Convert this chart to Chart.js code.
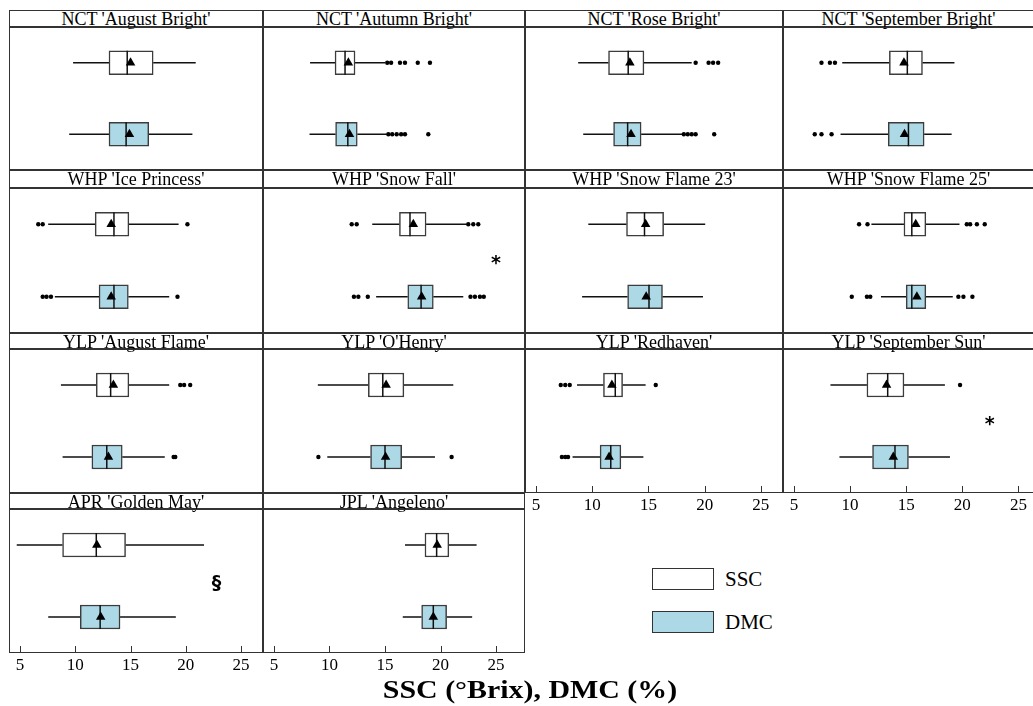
<!DOCTYPE html>
<html>
<head>
<meta charset="utf-8">
<title>SSC and DMC by cultivar</title>
<script src="https://cdn.jsdelivr.net/npm/chart.js@4.4.1/dist/chart.umd.min.js"></script>
<style>
  html, body { margin: 0; padding: 0; background: #fff; }
  body { width: 1033px; height: 706px; position: relative; overflow: hidden;
         font-family: "Liberation Serif", "Times New Roman", serif; color: #000; }
  .strip { position: absolute; box-sizing: border-box; border: 1px solid #333; text-align: center;
           font-size: 18px; line-height: 16px; white-space: nowrap; }
  canvas { position: absolute; }
  .key { position: absolute; left: 652px; width: 62px; height: 22px; box-sizing: border-box; border: 1.5px solid #333; }
  .keytext { position: absolute; left: 725px; font-size: 21px; line-height: 22px; }
  #xtitle { position: absolute; left: 0; width: 1059px; top: 675px; text-align: center; }
  #xtitle span { display: inline-block; font-weight: bold; font-size: 26px; line-height: 30px; transform: scaleX(1.15); }
</style>
</head>
<body>
<div id="figure"></div>
<div class="key" style="top:568px;background:#fff"></div>
<div class="keytext" style="top:568px">SSC</div>
<div class="key" style="top:611px;background:#add8e6"></div>
<div class="keytext" style="top:611px">DMC</div>
<div id="xtitle"><span>SSC (°Brix), DMC (%)</span></div>
<script>
const panelNames = [
  "NCT 'August Bright'", "NCT 'Autumn Bright'", "NCT 'Rose Bright'", "NCT 'September Bright'",
  "WHP 'Ice Princess'", "WHP 'Snow Fall'", "WHP 'Snow Flame 23'", "WHP 'Snow Flame 25'",
  "YLP 'August Flame'", "YLP 'O'Henry'", "YLP 'Redhaven'", "YLP 'September Sun'",
  "APR 'Golden May'", "JPL 'Angeleno'"
];
const measures = ['SSC', 'DMC'];

// [lower whisker, Q1, median, Q3, upper whisker]
const sscBox = [
  [9.8, 13.05, 14.7, 17.05, 20.9],
  [8.25, 10.5, 11.4, 12.3, 15.0],
  [8.75, 11.45, 13.2, 14.6, 18.85],
  [9.3, 13.5, 15.1, 16.45, 19.3],
  [7.55, 11.8, 13.5, 14.85, 19.35],
  [13.85, 16.3, 17.25, 18.7, 22.35],
  [9.65, 13.05, 14.65, 16.35, 20.05],
  [11.9, 14.8, 15.5, 16.75, 19.75],
  [8.7, 11.9, 13.2, 14.85, 18.5],
  [8.95, 13.5, 14.8, 16.7, 21.15],
  [8.65, 11.0, 12.05, 12.7, 14.75],
  [8.25, 11.5, 13.35, 14.8, 18.45],
  [4.7, 8.85, 11.9, 14.55, 21.65],
  [16.8, 18.6, 19.65, 20.75, 23.25]
];
const dmcBox = [
  [9.45, 13.05, 14.6, 16.65, 20.6],
  [8.2, 10.55, 11.65, 12.5, 15.15],
  [9.2, 11.9, 13.15, 14.35, 18.0],
  [9.15, 13.4, 15.2, 16.6, 19.05],
  [8.15, 12.15, 13.5, 14.8, 18.5],
  [14.2, 17.05, 18.25, 19.35, 22.05],
  [9.1, 13.15, 15.05, 16.25, 19.85],
  [12.75, 15.0, 15.5, 16.75, 19.15],
  [8.85, 11.5, 12.85, 14.25, 18.1],
  [9.8, 13.7, 15.0, 16.5, 19.5],
  [8.25, 10.7, 11.65, 12.55, 14.55],
  [9.05, 12.0, 14.0, 15.2, 18.9],
  [7.55, 10.45, 12.25, 14.05, 19.1],
  [16.6, 18.3, 19.35, 20.55, 22.85]
];
const sscMean = [15.0, 11.7, 13.35, 14.8, 13.25, 17.55, 14.75, 15.85, 13.45, 15.1, 11.75, 13.25, 11.95, 19.7];
const dmcMean = [14.9, 11.8, 13.45, 14.85, 13.25, 18.3, 14.8, 15.95, 13.0, 15.05, 11.5, 13.85, 12.3, 19.35];
const sscOutliers = [
  [], [15.2, 15.55, 16.35, 16.8, 17.95, 19.05], [19.2, 20.35, 20.75, 21.2], [7.45, 8.2, 8.65],
  [6.65, 7.05, 20.15], [12.0, 12.45, 22.5, 22.95, 23.4], [], [10.8, 11.55, 20.4, 20.7, 21.3, 22.0],
  [19.5, 19.85, 20.4], [], [7.2, 7.6, 8.0, 15.65], [19.8],
  [], []
];
const dmcOutliers = [
  [], [15.3, 15.65, 16.05, 16.45, 16.8, 18.9], [18.15, 18.5, 18.85, 19.2, 20.85], [6.85, 7.45, 8.35],
  [7.05, 7.4, 7.8, 19.25], [12.2, 12.6, 13.45, 22.7, 23.1, 23.55, 23.9], [], [10.15, 11.5, 11.8, 19.65, 20.1, 20.9],
  [18.9, 19.05], [9.0, 21.0], [7.3, 7.6, 7.85], [],
  [], []
];
const xTicks = [5, 10, 15, 20, 25];

// significance marks
const markPanels = [5, 11, 12];
const markX = [25.0, 22.45, 22.8];
const markY = [0.49, 0.5, 0.53];
const markText = ['*', '*', '§'];

// grid layout
const colLeft = [9, 263, 525, 783];
const colWidth = [254, 262, 258, 251];
const colMin = [4.0, 4.01, 4.02, 4.02];
const colMax = [26.99, 27.61, 26.97, 26.39];
const rowTitleTop = [10, 170, 333, 493];
const rowPlotTop = [27, 188, 349, 509];
const rowPlotBottom = [170, 333, 493, 653];
const AXIS_H = 24;

Chart.defaults.font.family = '"Liberation Serif", "Times New Roman", serif';
Chart.defaults.color = '#000';

function boxParts(p, hasAxis) {
  return {
    id: 'boxParts',
    beforeDatasetsDraw(chart) {
      const {ctx, scales: {x, y}} = chart;
      ctx.save();
      ctx.strokeStyle = '#111';
      ctx.lineWidth = 1.5;
      [sscBox[p], dmcBox[p]].forEach((b, i) => {
        const py = y.getPixelForValue(i);
        ctx.beginPath();
        ctx.moveTo(x.getPixelForValue(b[0]), py);
        ctx.lineTo(x.getPixelForValue(b[1]), py);
        ctx.moveTo(x.getPixelForValue(b[3]), py);
        ctx.lineTo(x.getPixelForValue(b[4]), py);
        ctx.stroke();
      });
      ctx.restore();
    },
    afterDatasetDraw(chart, args) {
      if (args.meta.type !== 'bar') return;
      const {ctx, scales: {x}} = chart;
      ctx.save();
      ctx.strokeStyle = '#111';
      ctx.lineWidth = 1.5;
      args.meta.data.forEach((bar, i) => {
        const b = i === 0 ? sscBox[p] : dmcBox[p];
        const px = x.getPixelForValue(b[2]);
        ctx.beginPath();
        ctx.moveTo(px, bar.y - bar.height / 2);
        ctx.lineTo(px, bar.y + bar.height / 2);
        ctx.stroke();
      });
      ctx.restore();
    },
    afterDraw(chart) {
      const {ctx, chartArea: a, scales: {x, y}} = chart;
      ctx.save();
      ctx.strokeStyle = '#333';
      ctx.lineWidth = 1;
      ctx.strokeRect(a.left + 0.5, a.top + 0.5, a.width - 1, a.height - 1);
      if (hasAxis) {
        ctx.beginPath();
        xTicks.forEach(v => {
          const px = Math.round(x.getPixelForValue(v)) + 0.5;
          ctx.moveTo(px, a.bottom);
          ctx.lineTo(px, a.bottom - 7);
        });
        ctx.stroke();
      }
      const m = markPanels.indexOf(p);
      if (m >= 0) {
        ctx.font = 'bold 19px "DejaVu Sans", sans-serif';
        ctx.fillStyle = '#000';
        ctx.textAlign = 'left';
        ctx.textBaseline = 'alphabetic';
        const tm = ctx.measureText(markText[m]);
        const cx = x.getPixelForValue(markX[m]);
        const cy = y.getPixelForValue(markY[m]);
        const w = tm.actualBoundingBoxRight - tm.actualBoundingBoxLeft;
        ctx.fillText(markText[m], cx - w / 2 + tm.actualBoundingBoxLeft,
          cy + (tm.actualBoundingBoxAscent - tm.actualBoundingBoxDescent) / 2);
      }
      ctx.restore();
    }
  };
}

const fig = document.getElementById('figure');

panelNames.forEach((name, p) => {
  const col = p % 4, row = Math.floor(p / 4);
  const hasAxis = row === 3 || (row === 2 && col >= 2);

  const strip = document.createElement('div');
  strip.className = 'strip';
  strip.style.left = colLeft[col] + 'px';
  strip.style.top = rowTitleTop[row] + 'px';
  strip.style.width = colWidth[col] + 'px';
  strip.style.height = (rowPlotTop[row] - rowTitleTop[row]) + 'px';
  strip.textContent = name;
  fig.appendChild(strip);

  const plotH = rowPlotBottom[row] - rowPlotTop[row];
  const canvas = document.createElement('canvas');
  canvas.width = colWidth[col];
  canvas.height = plotH + (hasAxis ? AXIS_H : 0);
  canvas.style.left = colLeft[col] + 'px';
  canvas.style.top = rowPlotTop[row] + 'px';
  canvas.style.width = canvas.width + 'px';
  canvas.style.height = canvas.height + 'px';
  fig.appendChild(canvas);

  const outliers = sscOutliers[p].map(v => ({x: v, y: 'SSC'}))
    .concat(dmcOutliers[p].map(v => ({x: v, y: 'DMC'})));

  new Chart(canvas, {
    type: 'bar',
    data: {
      labels: measures,
      datasets: [
        {
          type: 'scatter',
          label: 'mean',
          data: [{x: sscMean[p], y: 'SSC'}, {x: dmcMean[p], y: 'DMC'}],
          pointStyle: 'triangle',
          pointRadius: 5.5,
          backgroundColor: '#000',
          borderWidth: 0,
          order: 1
        },
        {
          type: 'scatter',
          label: 'outliers',
          data: outliers,
          pointRadius: 2.2,
          backgroundColor: '#000',
          borderWidth: 0,
          order: 2
        },
        {
          type: 'bar',
          label: 'IQR',
          indexAxis: 'y',
          data: [[sscBox[p][1], sscBox[p][3]], [dmcBox[p][1], dmcBox[p][3]]],
          backgroundColor: ['#ffffff', '#add8e6'],
          borderColor: '#3c3c3c',
          borderWidth: 1.5,
          borderSkipped: false,
          barThickness: 24,
          order: 3
        }
      ]
    },
    options: {
      indexAxis: 'y',
      responsive: false,
      animation: false,
      events: [],
      layout: { padding: 0, autoPadding: false },
      plugins: { legend: { display: false }, tooltip: { enabled: false } },
      scales: {
        x: {
          type: 'linear',
          min: colMin[col],
          max: colMax[col],
          display: hasAxis,
          grid: { display: false, drawTicks: false },
          border: { display: false },
          ticks: { padding: 2, font: { size: 17 }, color: '#000', autoSkip: false, maxRotation: 0 },
          afterBuildTicks: s => { s.ticks = xTicks.map(v => ({ value: v })); },
          afterFit: s => { if (hasAxis) s.height = AXIS_H; }
        },
        y: { type: 'category', labels: measures, offset: true, display: false }
      }
    },
    plugins: [boxParts(p, hasAxis)]
  });
});
</script>
</body>
</html>
